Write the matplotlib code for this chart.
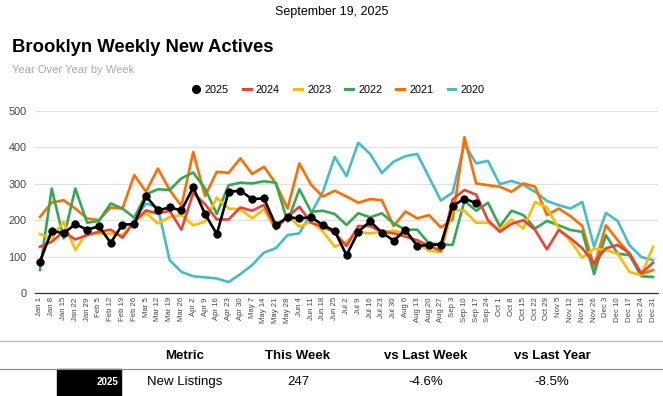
import numpy as np
import matplotlib
matplotlib.use("Agg")
import matplotlib.pyplot as plt
from matplotlib.lines import Line2D
from matplotlib.patches import Rectangle

plt.rcParams['font.family'] = ['Liberation Sans', 'DejaVu Sans']

# ---- data -------------------------------------------------------------
weeks = ["Jan 1", "Jan 8", "Jan 15", "Jan 22", "Jan 29", "Feb 5", "Feb 12", "Feb 19",
         "Feb 26", "Mar 5", "Mar 12", "Mar 19", "Mar 26", "Apr 2", "Apr 9", "Apr 16",
         "Apr 23", "Apr 30", "May 7", "May 14", "May 21", "May 28", "Jun 4", "Jun 11",
         "Jun 18", "Jun 25", "Jul 2", "Jul 9", "Jul 16", "Jul 23", "Jul 30", "Aug 6",
         "Aug 13", "Aug 20", "Aug 27", "Sep 3", "Sep 10", "Sep 17", "Sep 24", "Oct 1",
         "Oct 8", "Oct 15", "Oct 22", "Oct 29", "Nov 5", "Nov 12", "Nov 19", "Nov 26",
         "Dec 3", "Dec 10", "Dec 17", "Dec 24", "Dec 31"]

y2025 = [86, 171, 164, 189, 174, 183, 138, 188, 189, 266, 227,
         235, 227, 290, 217, 162, 278, 281, 258, 260, 186,
         208, 205, 208, 187, 170, 104, 168, 197, 166, 144, 173,
         129, 132, 133, 239, 259, 247]

y2024 = [127, 141, 168, 147, 159, 168, 174, 152, 196, 227, 218,
         226, 174, 275, 244, 202, 202, 235, 226, 242, 177,
         209, 237, 193, 182, 166, 129, 184, 184, 168, 164, 155,
         145, 130, 116, 257, 283, 270, 200, 168, 190, 200, 173,
         120, 173, 150, 123, 82, 123, 132, 109, 54, 83]

y2023 = [162, 150, 196, 118, 168, 163, 163, 159, 196, 220, 191,
         209, 214, 186, 196, 262, 232, 230, 205, 230, 174,
         214, 182, 196, 169, 127, 141, 168, 164, 168, 171, 165,
         136, 116, 113, 229, 226, 193, 193, 174, 202, 177, 250,
         235, 177, 143, 97, 122, 118, 108, 58, 49, 127]

y2022 = [63, 287, 150, 287, 193, 198, 246, 232, 207, 271, 285,
         283, 315, 331, 287, 217, 296, 303, 301, 307, 303,
         196, 285, 223, 226, 217, 187, 219, 208, 219, 191, 174,
         174, 136, 134, 132, 253, 226, 248, 183, 226, 214, 177,
         198, 186, 173, 168, 52, 159, 108, 104, 46, 44]

y2021 = [209, 248, 255, 232, 205, 200, 235, 232, 324, 278, 342,
         283, 239, 387, 266, 333, 330, 370, 327, 347, 301,
         232, 356, 297, 265, 281, 265, 248, 258, 255, 184, 224,
         205, 214, 180, 202, 428, 301, 296, 292, 278, 301, 292,
         214, 232, 211, 184, 72, 186, 145, 108, 52, 63]

y2020 = [None, None, None, None, None, None, None, None, 203, 246, 235,
         90, 58, 46, 43, 40, 30, 52, 77, 111, 123,
         159, 164, 219, 278, 374, 321, 413, 382, 330, 361, 376,
         382, 318, 254, 276, 409, 356, 363, 299, 308, 297, 278,
         253, 241, 232, 250, 127, 220, 198, 131, 99, 90]

years = ["2025", "2024", "2023", "2022", "2021", "2020"]
series = [y2025, y2024, y2023, y2022, y2021, y2020]
colors = ["#000000", "#ea4335", "#fbbc04", "#34a853", "#ff6d01", "#46bdc6"]

table_header = ["Metric", "This Week", "vs Last Week", "vs Last Year"]
table_row = ["New Listings", "247", "-4.6%", "-8.5%"]

# ---- figure -----------------------------------------------------------
W, H = 663, 396
fig = plt.figure(figsize=(W / 100, H / 100), dpi=100)

# chart area in pixels
left, right, top, bottom = 35, 658, 111, 293
ax = fig.add_axes([left / W, 1 - bottom / H, (right - left) / W, (bottom - top) / H])

x = np.arange(len(weeks))
for yr, vals, c in reversed(list(zip(years, series, colors))):
    v = np.array([np.nan if a is None else a for a in vals], dtype=float)
    xx = x[:len(v)]
    if yr == "2025":
        ax.plot(xx, v, color=c, lw=1.9, marker="o", ms=5, zorder=10)
    else:
        ax.plot(xx, v, color=c, lw=1.9, zorder=3)

ax.set_xlim(-0.42, 52.42)
ax.set_ylim(0, 500)
ax.set_yticks(range(0, 501, 100))
ax.set_xticks(x)
ax.set_xticklabels(weeks, rotation=90, fontsize=5.6, color="#444444")
ax.tick_params(axis="y", labelsize=7.8, colors="#444444", length=0, pad=6)
ax.tick_params(axis="x", length=0, pad=3)
ax.grid(axis="y", color="#e2e2e2", lw=0.9)
ax.set_axisbelow(True)
for s in ["top", "right", "left"]:
    ax.spines[s].set_visible(False)
ax.spines["bottom"].set_color("#333333")
ax.spines["bottom"].set_linewidth(0.9)

# legend
handles = []
for yr, c in zip(years, colors):
    if yr == "2025":
        handles.append(Line2D([], [], color=c, marker="o", ms=5.5, lw=0))
    else:
        handles.append(Line2D([], [], color=c, lw=2.2))
fig.legend(handles, years, loc="center", bbox_to_anchor=(0.51, 1 - 90 / H), ncol=6,
           frameon=False, fontsize=7.8, handlelength=0.7, handletextpad=0.5,
           columnspacing=1.3)

# ---- overlay for header text and table (pixel coordinates) -------------
ov = fig.add_axes([0, 0, 1, 1], zorder=-1)
ov.set_xlim(0, W)
ov.set_ylim(H, 0)
ov.axis("off")

ov.text(W / 2, 12, "September 19, 2025", ha="center", va="center", fontsize=9)
ov.text(12, 47, "Brooklyn Weekly New Actives", ha="left", va="center",
        fontsize=13.3, fontweight="bold")
ov.text(12, 70, "Year Over Year by Week", ha="left", va="center", fontsize=8,
        color="#a8a8a8")

narrow = ["Liberation Sans Narrow", "Liberation Sans", "DejaVu Sans"]
ov.plot([0, W], [341, 341], color="#bbbbbb", lw=1)
ov.plot([0, W], [369, 369], color="#888888", lw=0.8)
col_x = [185, 298, 426, 552]
for cx, h in zip(col_x, table_header):
    ov.text(cx, 356, h, ha="center", va="center", fontsize=9.5, fontweight="bold",
            family=narrow)
for cx, t in zip(col_x, table_row):
    ov.text(cx, 382, t, ha="center", va="center", fontsize=9.5, family=narrow)
ov.add_patch(Rectangle((57, 369), 64, 27, color="black"))
ov.text(118, 382, "2025", ha="right", va="center", fontsize=7, fontweight="bold",
        color="white", family=narrow)

fig.savefig("out.png", dpi=100)
